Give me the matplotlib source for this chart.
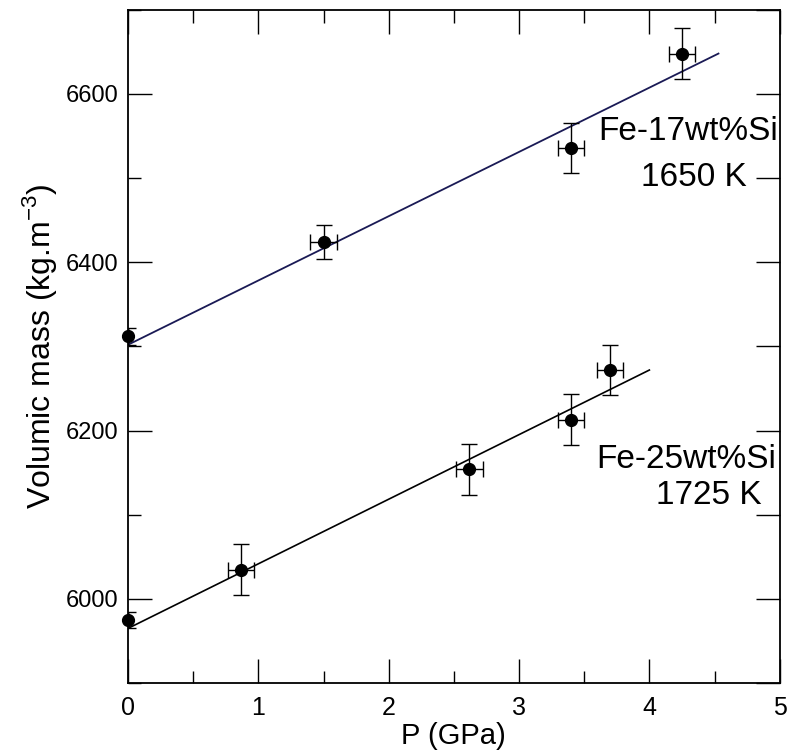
import matplotlib
matplotlib.use("Agg")
import matplotlib.pyplot as plt
from matplotlib.ticker import MultipleLocator, NullFormatter

plt.rcParams['font.family'] = ['Liberation Sans', 'DejaVu Sans']

# Fe-17wt%Si, 1650 K
p17 = [0.0, 1.5, 3.4, 4.25]
rho17 = [6312, 6424, 6536, 6648]
perr17 = [0.0, 0.1, 0.1, 0.1]
rerr17 = [10, 20, 30, 30]
fit17_p = [0.0, 4.53]
fit17_rho = [6302, 6648]

# Fe-25wt%Si, 1725 K
p25 = [0.0, 0.87, 2.62, 3.4, 3.7]
rho25 = [5975, 6035, 6154, 6213, 6272]
perr25 = [0.0, 0.1, 0.1, 0.1, 0.1]
rerr25 = [10, 30, 30, 30, 30]
fit25_p = [0.0, 4.0]
fit25_rho = [5965, 6272]

fig = plt.figure(figsize=(7.9, 7.54), dpi=100)
ax = fig.add_axes([0.162, 0.094, 0.825, 0.893])

ax.plot(fit17_p, fit17_rho, color='#1a1a55', lw=1.3, zorder=2)
ax.plot(fit25_p, fit25_rho, color='black', lw=1.2, zorder=2)

for p, r, pe, re in [(p17, rho17, perr17, rerr17), (p25, rho25, perr25, rerr25)]:
    ax.errorbar(p, r, xerr=pe, yerr=re, fmt='none', ecolor='black',
                elinewidth=1.0, capsize=6, capthick=1.0, zorder=3)
    ax.plot(p, r, 'o', color='black', ms=8.5, zorder=4, clip_on=False)

ax.set_xlim(0, 5)
ax.set_ylim(5900, 6700)
ax.xaxis.set_major_locator(MultipleLocator(1))
ax.xaxis.set_minor_locator(MultipleLocator(0.5))
ax.yaxis.set_major_locator(MultipleLocator(200))
ax.yaxis.set_minor_locator(MultipleLocator(100))
ax.tick_params(which='both', direction='in', top=True, right=False, width=1.0)
ax.tick_params(which='major', length=17)
ax.tick_params(which='minor', length=9)
ax.tick_params(axis='x', labelsize=18, pad=9)
ax.tick_params(axis='y', labelsize=17, pad=7)
for s in ax.spines.values():
    s.set_linewidth(1.3)

# right-hand ticks: all of equal length
ax2 = ax.twinx()
ax2.set_ylim(ax.get_ylim())
ax2.yaxis.set_major_locator(MultipleLocator(100))
ax2.yaxis.set_major_formatter(NullFormatter())
ax2.tick_params(axis='y', direction='in', length=17, width=1.0)
for s in ax2.spines.values():
    s.set_visible(False)

ax.set_xlabel('P (GPa)', fontsize=21, labelpad=2)
ax.set_ylabel('Volumic mass (kg.m$^{\\mathregular{-3}}$)', fontsize=23, labelpad=5)

ax.text(4.294, 6545, 'Fe-17wt%Si', fontsize=24, ha='center', va='baseline')
ax.text(4.34, 6491, '1650 K', fontsize=24, ha='center', va='baseline')
ax.text(4.28, 6156, 'Fe-25wt%Si', fontsize=24, ha='center', va='baseline')
ax.text(4.455, 6113, '1725 K', fontsize=24, ha='center', va='baseline')

fig.savefig('out.png', dpi=100)
